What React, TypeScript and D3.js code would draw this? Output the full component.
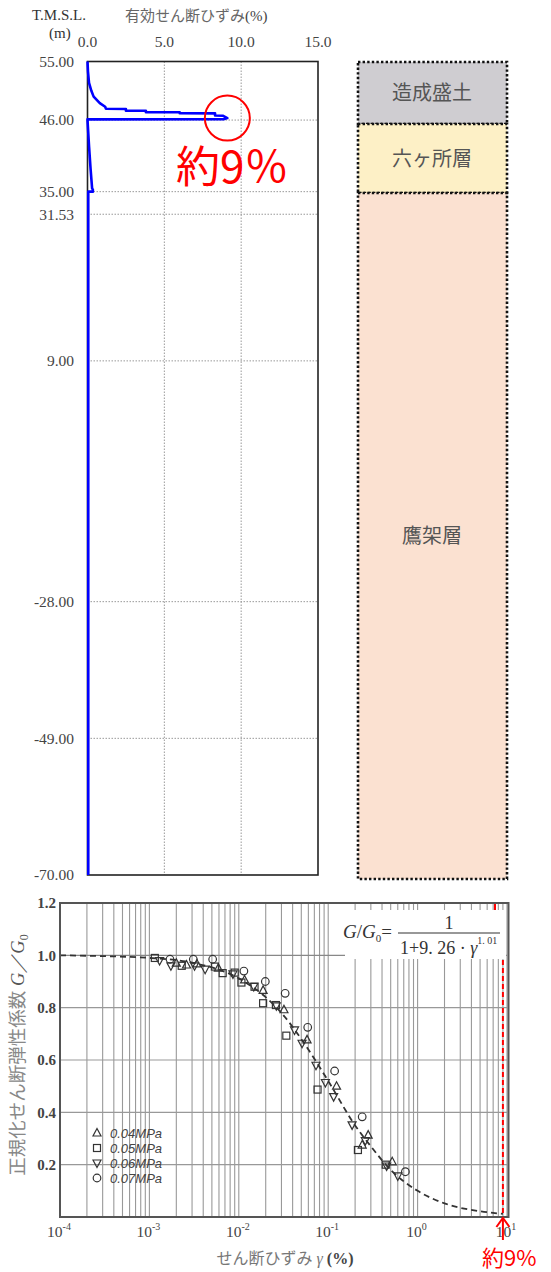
import React from "react";
import * as d3 from "d3";

// ---------- Top chart data ----------
const strainTicks = [0, 5, 10, 15];
const elevTicks = [55, 46, 35, 31.53, 9, -28, -49, -70];
// effective shear strain profile (%, elevation m)
const profileStrain = [0, 0.03, 0.1, 0.25, 0.4, 0.8, 1.15, 1.2, 2.5, 2.5, 3.8, 3.8, 6.0, 6.0, 8.3, 8.3, 8.8, 9.1, 8.9, 0, 0, 0.1, 0.2, 0.3, 0.35, 0.35, 0.05, 0.05];
const profileElev = [55, 53.5, 51.7, 50.5, 49.6, 48.6, 48.05, 47.75, 47.7, 47.45, 47.43, 47.22, 47.2, 47.05, 47.03, 46.7, 46.67, 46.3, 46.15, 46.1, 46.0, 42.0, 38.5, 35.5, 35.3, 35.0, 35.0, -70];

// geologic layers
const layerNames = ["造成盛土", "六ヶ所層", "鷹架層"];
const layerTops = [55, 46, 35];
const layerBottoms = [46, 35, -70];
const layerColors = ["#cfcdd1", "#fdf0c6", "#fbe1d1"];

// ---------- Bottom chart data ----------
const yTicksB = [0.2, 0.4, 0.6, 0.8, 1.0, 1.2];
const xDecades = [-4, -3, -2, -1, 0, 1];
const legendLabels = ["0.04MPa", "0.05MPa", "0.06MPa", "0.07MPa"];
// curve (gamma %, G/G0)
const curveGamma = [1e-4, 3e-4, 1e-3, 3e-3, 1e-2, 2e-2, 3e-2, 5e-2, 0.1, 0.2, 0.3, 0.5, 1, 2, 5, 9];
const curveG = [1.0, 0.997, 0.99, 0.972, 0.912, 0.84, 0.78, 0.68, 0.52, 0.35, 0.27, 0.18, 0.1, 0.052, 0.022, 0.012];
// series points [gamma, G/G0]
const s004: [number, number][] = [[2.0e-3, 0.97], [2.6e-3, 0.963], [3.4e-3, 0.967], [5.9e-3, 0.951], [1.16e-2, 0.906], [1.87e-2, 0.866], [3.2e-2, 0.792], [5.8e-2, 0.677], [1.24e-1, 0.5], [2.8e-1, 0.313], [2.4e-1, 0.275], [5.2e-1, 0.211]];
const s005: [number, number][] = [[1.15e-3, 0.99], [2.3e-3, 0.96], [5.4e-3, 0.957], [6.6e-3, 0.932], [9.0e-3, 0.934], [1.07e-2, 0.896], [1.5e-2, 0.88], [1.87e-2, 0.817], [2.6e-2, 0.81], [3.4e-2, 0.693], [7.6e-2, 0.487], [2.15e-1, 0.256], [4.4e-1, 0.2]];
const s006: [number, number][] = [[1.3e-3, 0.98], [1.74e-3, 0.96], [3.2e-3, 0.96], [4.2e-3, 0.947], [8.6e-3, 0.929], [1.47e-2, 0.881], [2.63e-2, 0.807], [4.2e-2, 0.715], [5.1e-2, 0.664], [7.3e-2, 0.58], [9.3e-2, 0.514], [1.15e-1, 0.46], [1.85e-1, 0.352], [2.6e-1, 0.292], [4.5e-1, 0.195], [6.0e-1, 0.157]];
const s007: [number, number][] = [[1.7e-3, 0.985], [3.1e-3, 0.985], [5.1e-3, 0.985], [1.14e-2, 0.94], [1.98e-2, 0.9], [3.3e-2, 0.855], [5.9e-2, 0.725], [1.18e-1, 0.558], [2.4e-1, 0.383], [7.3e-1, 0.173]];
const markGamma = 9;

const SERIF = "'Liberation Serif', 'DejaVu Serif', serif";
const JP = "'Noto Sans CJK JP', sans-serif";

function Marker({ kind, x, y }: { kind: number; x: number; y: number }) {
  const st = { fill: "none", stroke: "#333", strokeWidth: 1.2 };
  const r = 4;
  if (kind === 0) return <path d={`M${x},${y - r - 0.5}L${x + r},${y + r - 1}L${x - r},${y + r - 1}Z`} {...st} />;
  if (kind === 1) return <rect x={x - 3.5} y={y - 3.5} width={7} height={7} {...st} />;
  if (kind === 2) return <path d={`M${x},${y + r + 0.5}L${x + r},${y - r + 1}L${x - r},${y - r + 1}Z`} {...st} />;
  return <circle cx={x} cy={y} r={3.8} {...st} />;
}

export default function App() {
  // top chart scales
  const xT = d3.scaleLinear().domain([0, 15]).range([87.5, 318]);
  const yT = d3.scaleLinear().domain([55, -70]).range([61.5, 875]);
  const profileLine = d3.line<number>().x((d) => xT(profileStrain[d])).y((d) => yT(profileElev[d]));
  const yL = d3.scaleLinear().domain([55, 46, 35, -70]).range([62, 124, 193, 879]);

  // bottom chart scales
  const xB = d3.scaleLog().domain([1e-4, 10]).range([60, 507]);
  const yB = d3.scaleLinear().domain([0, 1.2]).range([1217, 903]);
  const curve = d3
    .line<number>()
    .x((i) => xB(curveGamma[i]))
    .y((i) => yB(curveG[i]))
    .curve(d3.curveMonotoneX);

  const minor: number[] = [];
  for (let e = -4; e < 1; e++) for (let m = 1; m <= 9; m++) minor.push(m * Math.pow(10, e));
  minor.push(10);

  const series = [s004, s005, s006, s007];

  return (
    <svg width={551} height={1272} style={{ position: "absolute", left: 0, top: 0, background: "#fff" }}>
      <rect width={551} height={1272} fill="#fff" />
      {/* ---------- TOP CHART ---------- */}
      <text x={32} y={20} fontFamily={SERIF} fontSize={15} fill="#333">T.M.S.L.</text>
      <text x={49} y={38} fontFamily={SERIF} fontSize={15} fill="#333">(m)</text>
      <text x={125} y={21} fontFamily={JP} fontSize={15} fill="#666">
        有効せん断ひずみ<tspan fontFamily={SERIF} fill="#444">(%)</tspan>
      </text>
      {strainTicks.map((t) => (
        <text key={t} x={xT(t)} y={47} textAnchor="middle" fontFamily={SERIF} fontSize={15.5} fill="#444">
          {t.toFixed(1)}
        </text>
      ))}
      {elevTicks.map((t) => (
        <text key={t} x={74} y={yT(t)} dy="0.35em" textAnchor="end" fontFamily={SERIF} fontSize={15.5} fill="#444">
          {t.toFixed(2)}
        </text>
      ))}
      {elevTicks.slice(1, -1).map((t) => (
        <line key={t} x1={xT(0)} x2={xT(15)} y1={yT(t)} y2={yT(t)} stroke="#999" strokeWidth={1} strokeDasharray="1.5 1.5" />
      ))}
      {strainTicks.slice(1, -1).map((t) => (
        <line key={t} x1={xT(t)} x2={xT(t)} y1={yT(55)} y2={yT(-70)} stroke="#999" strokeWidth={1} strokeDasharray="1.5 1.5" />
      ))}
      <rect x={xT(0)} y={yT(55)} width={xT(15) - xT(0)} height={yT(-70) - yT(55)} fill="none" stroke="#222" strokeWidth={1.6} />
      <path d={profileLine(d3.range(profileStrain.length)) || ""} fill="none" stroke="#0000ff" strokeWidth={2.6} strokeLinejoin="round" />
      <circle cx={xT(9.1)} cy={yT(46.3)} r={22.5} fill="none" stroke="#ff0000" strokeWidth={2} />
      <text x={176} y={183} fontFamily={JP} fontSize={44} fill="#ff0000">約9％</text>

      {/* layer column */}
      {layerNames.map((n, i) => (
        <g key={n}>
          <rect
            x={358}
            y={yL(layerTops[i])}
            width={149}
            height={yL(layerBottoms[i]) - yL(layerTops[i])}
            fill={layerColors[i]}
            stroke="#111"
            strokeWidth={2.6}
            strokeDasharray="2.4 2.2"
          />
          <text
            x={432}
            y={(yL(layerTops[i]) + yL(layerBottoms[i])) / 2}
            dy="0.35em"
            textAnchor="middle"
            fontFamily={JP}
            fontSize={20}
            fill="#555"
          >
            {n}
          </text>
        </g>
      ))}

      {/* ---------- BOTTOM CHART ---------- */}
      {minor.map((g, i) => (
        <line key={i} x1={xB(g)} x2={xB(g)} y1={yB(0)} y2={yB(1.2)} stroke="#999" strokeWidth={1.1} />
      ))}
      {yTicksB.slice(0, -1).map((t) => (
        <line key={t} x1={xB(1e-4)} x2={xB(10)} y1={yB(t)} y2={yB(t)} stroke={t === 1 ? "#888" : "#999"} strokeWidth={1.2} />
      ))}
      {/* formula box */}
      <rect x={345} y={910} width={161} height={49} fill="#fff" />
      <text x={343} y={938} fontFamily={SERIF} fontSize={19} fill="#333">
        <tspan fontStyle="italic">G</tspan>
        <tspan>/</tspan>
        <tspan fontStyle="italic">G</tspan>
        <tspan fontSize={11} dy={4}>0</tspan>
        <tspan dy={-4}>=</tspan>
      </text>
      <line x1={398} x2={500} y1={933} y2={933} stroke="#333" strokeWidth={1.2} />
      <text x={449} y={929} textAnchor="middle" fontFamily={SERIF} fontSize={18} fill="#333">1</text>
      <text x={400} y={954} fontFamily={SERIF} fontSize={18} fill="#333">
        1+9. 26 · <tspan fontStyle="italic">γ</tspan>
        <tspan fontSize={10} dy={-10}>1. 01</tspan>
      </text>

      {/* red mark */}
      <line x1={xB(markGamma)} x2={xB(markGamma)} y1={960} y2={yB(0)} stroke="#ff0000" strokeWidth={2} strokeDasharray="5 3" />
      <line x1={495} x2={495} y1={903} y2={910} stroke="#ff0000" strokeWidth={2} />

      <path d={curve(d3.range(curveGamma.length)) || ""} fill="none" stroke="#333" strokeWidth={1.8} strokeDasharray="6 4" />
      {series.map((s, k) =>
        s.map((p, i) => <Marker key={`${k}-${i}`} kind={k} x={xB(p[0])} y={yB(p[1])} />)
      )}
      <rect x={xB(1e-4)} y={yB(1.2)} width={xB(10) - xB(1e-4) + 1.5} height={yB(0) - yB(1.2)} fill="none" stroke="#555" strokeWidth={2} />

      {/* legend */}
      {legendLabels.map((l, i) => (
        <g key={l}>
          <Marker kind={i} x={97} y={1133 + i * 15} />
          <text x={110} y={1133 + i * 15} dy="0.35em" fontFamily="'Liberation Sans', Arial, sans-serif" fontStyle="italic" fontSize={13} fill="#444">
            {l}
          </text>
        </g>
      ))}

      {/* y axis */}
      {yTicksB.map((t) => (
        <text key={t} x={56} y={yB(t)} dy="0.35em" textAnchor="end" fontFamily={SERIF} fontWeight="bold" fontSize={15} fill="#444">
          {t.toFixed(1)}
        </text>
      ))}
      <text transform="translate(24,1055) rotate(-90)" textAnchor="middle" fontFamily={JP} fontSize={18.5} fill="#888">
        正規化せん断弾性係数
        <tspan fontFamily={SERIF} fontStyle="italic" fill="#555"> G／G</tspan>
        <tspan fontFamily={SERIF} fontSize={12} fill="#555" dy={4}>0</tspan>
      </text>

      {/* x axis */}
      {xDecades.map((e) => (
        <text key={e} x={xB(Math.pow(10, e)) - 1} y={1237} textAnchor="middle" fontFamily={SERIF} fontSize={15.5} fill="#444">
          10<tspan fontSize={10} dy={-7}>{e}</tspan>
        </text>
      ))}
      <text x={285} y={1264} textAnchor="middle" fontFamily={JP} fontSize={16} fill="#777">
        せん断ひずみ<tspan fontFamily={SERIF} fontStyle="italic">  γ </tspan>
        <tspan fontFamily={SERIF} fontWeight="bold" fill="#444">(%)</tspan>
      </text>

      {/* red arrow + label */}
      <line x1={xB(markGamma)} x2={xB(markGamma)} y1={1240} y2={1218} stroke="#ff0000" strokeWidth={2} />
      <path d={`M${xB(markGamma) - 6.5},${1227}L${xB(markGamma)},${1218}L${xB(markGamma) + 6.5},${1227}`} fill="none" stroke="#ff0000" strokeWidth={2} />
      <text x={482} y={1266} fontFamily={JP} fontSize={22} fill="#ff0000">約9%</text>
    </svg>
  );
}
